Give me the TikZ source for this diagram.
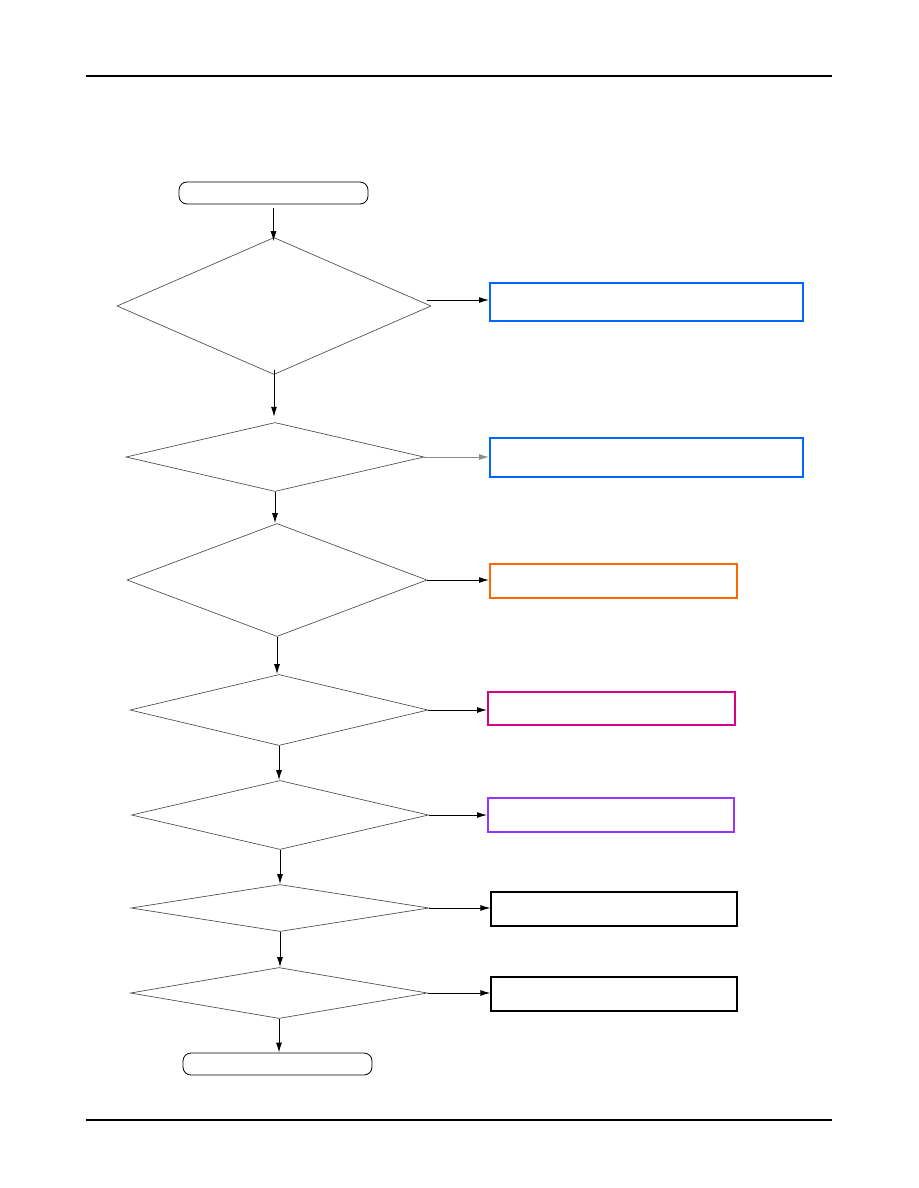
\documentclass[tikz,border=0pt]{standalone}
\usetikzlibrary{shapes.geometric,arrows.meta}
\definecolor{cblue}{RGB}{0,102,255}
\definecolor{corange}{RGB}{255,102,0}
\definecolor{cmagenta}{RGB}{214,0,140}
\definecolor{cpurple}{RGB}{153,51,255}
\tikzset{
  dia/.style 2 args={shape=diamond, draw=black!70, line width=0.5pt, inner sep=0pt,
    minimum width=#1*0.75pt, minimum height=#2*0.75pt},
  term/.style={draw=black, line width=0.6pt, rounded corners=6pt, inner sep=0pt,
    minimum width=189*0.75pt, minimum height=22*0.75pt},
  outbox/.style 2 args={draw=#1, line width=1.5pt, inner sep=0pt,
    minimum width=#2*0.75pt, minimum height=34*0.75pt},
  arr/.style={line width=0.75pt, -{Latex[length=7.5pt,width=4.5pt]}},
  rule/.style={line width=0.9pt}
}
\begin{document}
\begin{tikzpicture}[x=0.75pt,y=-0.75pt]
\useasboundingbox (0,0) rectangle (918,1188);
% header / footer rules
\coordinate (hl) at (86,76); \coordinate (hr) at (832,76);
\coordinate (fl) at (86,1120); \coordinate (fr) at (832,1120);
\draw[rule] (hl) -- (hr);
\draw[rule] (fl) -- (fr);
% terminals
\node[term] (start) at (273.5,193) {};
\node[term] (stop) at (277.5,1064) {};
% diamonds
\node[dia={314}{137}] (d1) at (274,306) {};
\node[dia={298}{69}]  (d2) at (275,457) {};
\node[dia={300}{113}] (d3) at (277,580) {};
\node[dia={298}{71}]  (d4) at (279,710) {};
\node[dia={297}{69}]  (d5) at (280,815) {};
\node[dia={298}{47}]  (d6) at (280,908) {};
\node[dia={297}{51}]  (d7) at (279,993) {};
% output boxes
\node[outbox={cblue}{313}, minimum height=38*0.75pt] (b1) at (646.5,302) {};
\node[outbox={cblue}{313}, minimum height=39*0.75pt] (b2) at (646.5,457.5) {};
\node[outbox={corange}{247}] (b3) at (613.5,581) {};
\node[outbox={cmagenta}{247}, minimum height=33*0.75pt] (b4) at (611.5,708.5) {};
\node[outbox={cpurple}{246}] (b5) at (611,815) {};
\node[outbox={black}{246}, line width=0.8pt] (b6) at (614,909) {};
\node[outbox={black}{246}, line width=0.8pt] (b7) at (614,994) {};
% vertical flow
\draw[arr] ([yshift=-3]start.south) -- ([yshift=-3]start.south |- d1.north);
\draw[arr] ([yshift=4]d1.south) -- ([yshift=4]d1.south |- d2.north);
\draw[arr] (d2.south) -- (d2.south |- d3.north);
\draw[arr] (d3.south) -- (d3.south |- d4.north);
\draw[arr] (d4.south) -- (d4.south |- d5.north);
\draw[arr] (d5.south) -- (d5.south |- d6.north);
\draw[arr] (d6.south) -- (d6.south |- d7.north);
\draw[arr] (d7.south) -- (d7.south |- stop.north);
% horizontal branches
\coordinate (a1) at ([xshift=-3,yshift=4.5]d1.east);
\draw[arr] (a1) -- (a1 -| b1.west);
\draw[arr, draw=black!45] (d2.east) -- (d2.east -| b2.west);
\draw[arr] (d3.east) -- (d3.east -| b3.west);
\draw[arr] (d4.east) -- (d4.east -| b4.west);
\draw[arr] (d5.east) -- (d5.east -| b5.west);
\draw[arr] (d6.east) -- (d6.east -| b6.west);
\draw[arr] (d7.east) -- (d7.east -| b7.west);
\end{tikzpicture}
\end{document}
